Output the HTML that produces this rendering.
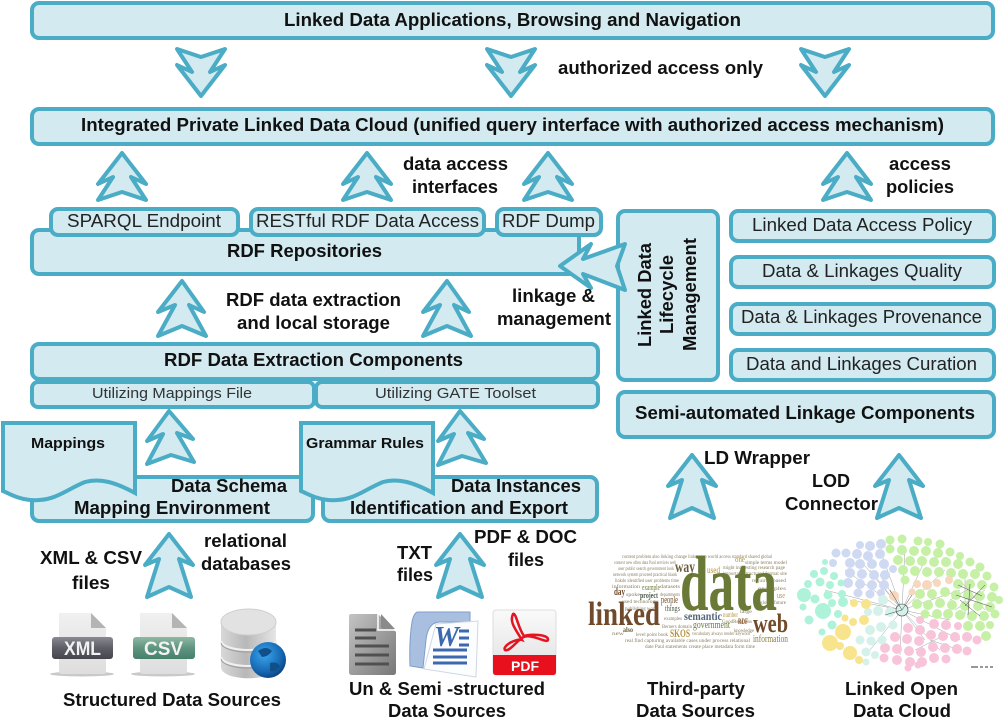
<!DOCTYPE html>
<html><head><meta charset="utf-8"><title>Linked Data Architecture</title>
<style>
html,body{margin:0;padding:0;background:#fff}
svg{display:block}
text{font-family:"Liberation Sans",sans-serif;fill:#111}
.b{font-weight:700;font-size:18px}
.r{font-size:18px;fill:#222}
.s{font-size:14.5px;fill:#333}
.box{fill:#d2eaf0;stroke:#4bacc6;stroke-width:4}
text.w{font-family:"Liberation Serif",serif}
.t text{font-family:"Liberation Serif",serif;font-size:5.5px;fill:#8a7f60}
</style></head><body>
<svg width="1006" height="723" viewBox="0 0 1006 723" xmlns="http://www.w3.org/2000/svg">
<defs>
<path id="au" class="box" stroke-linejoin="round" d="M0,0 L24,31 L9,24 L24,47 L0,39 L-24,47 L-9,24 L-24,31 Z"/>
<path id="am" class="box" stroke-linejoin="round" d="M0,0 L22,31 L7,24 L24,55 L0,45 L-24,55 L-7,24 L-24,31 Z"/>
<path id="at" class="box" stroke-linejoin="round" d="M0,0 L24,31 L10,25 L22,63 L0,53 L-22,63 L-10,25 L-24,31 Z"/>
<path id="ad" class="box" stroke-linejoin="round" d="M0,0 L24,-31 L9,-24 L24,-47 L0,-39 L-24,-47 L-9,-24 L-24,-31 Z"/>
<linearGradient id="g1" x1="0" y1="0" x2="0" y2="1"><stop offset="0" stop-color="#f0f0f0"/><stop offset="1" stop-color="#dedede"/></linearGradient>
<linearGradient id="g2" x1="0" y1="0" x2="0" y2="1"><stop offset="0" stop-color="#8a8a92"/><stop offset=".5" stop-color="#5e5e66"/><stop offset="1" stop-color="#45454c"/></linearGradient>
<linearGradient id="g3" x1="0" y1="0" x2="0" y2="1"><stop offset="0" stop-color="#8fb8a4"/><stop offset=".5" stop-color="#5f9580"/><stop offset="1" stop-color="#46806a"/></linearGradient>
<linearGradient id="g4" x1="0" y1="0" x2="1" y2="0"><stop offset="0" stop-color="#d8d8d8"/><stop offset=".45" stop-color="#b8b8b8"/><stop offset="1" stop-color="#e6e6e6"/></linearGradient>
<linearGradient id="g5" x1="0" y1="0" x2="1" y2="1"><stop offset="0" stop-color="#c4c4c4"/><stop offset="1" stop-color="#777"/></linearGradient>
<radialGradient id="g6" cx=".4" cy=".35" r=".7"><stop offset="0" stop-color="#3aa6ee"/><stop offset=".7" stop-color="#1566b0"/><stop offset="1" stop-color="#0a3f78"/></radialGradient>
<linearGradient id="g8" x1="0" y1="0" x2="0" y2="1"><stop offset="0" stop-color="#fafafa"/><stop offset="1" stop-color="#e0e0e0"/></linearGradient>
</defs>

<!-- top -->
<rect class="box" x="32" y="3" width="961" height="35" rx="7"/>
<text class="b" x="284" y="26" textLength="457" lengthAdjust="spacingAndGlyphs">Linked Data Applications, Browsing and Navigation</text>
<use href="#ad" x="201" y="96"/><use href="#ad" x="511" y="96"/><use href="#ad" x="825" y="96"/>
<text class="b" x="558" y="74" textLength="205" lengthAdjust="spacingAndGlyphs">authorized access only</text>
<rect class="box" x="32" y="109" width="961" height="35" rx="7"/>
<text class="b" x="81" y="131" textLength="863" lengthAdjust="spacingAndGlyphs">Integrated Private Linked Data Cloud (unified query interface with authorized access mechanism)</text>

<use href="#au" x="122" y="153"/><use href="#au" x="367" y="153"/><use href="#au" x="548" y="153"/><use href="#au" x="847" y="153"/>
<text class="b" x="403" y="170" textLength="105" lengthAdjust="spacingAndGlyphs">data access</text>
<text class="b" x="412" y="193" textLength="86" lengthAdjust="spacingAndGlyphs">interfaces</text>
<text class="b" x="889" y="170" textLength="62" lengthAdjust="spacingAndGlyphs">access</text>
<text class="b" x="886" y="193" textLength="68" lengthAdjust="spacingAndGlyphs">policies</text>

<!-- RDF repositories -->
<rect class="box" x="32" y="230" width="547" height="44" rx="7"/>
<rect class="box" x="51" y="209" width="187" height="26" rx="7"/>
<rect class="box" x="251" y="209" width="233" height="26" rx="7"/>
<rect class="box" x="497" y="209" width="104" height="26" rx="7"/>
<text class="r" x="67" y="227" textLength="154" lengthAdjust="spacingAndGlyphs">SPARQL Endpoint</text>
<text class="r" x="256" y="227" textLength="223" lengthAdjust="spacingAndGlyphs">RESTful RDF Data Access</text>
<text class="r" x="502" y="227" textLength="93" lengthAdjust="spacingAndGlyphs">RDF Dump</text>
<text class="b" x="227" y="257" textLength="155" lengthAdjust="spacingAndGlyphs">RDF Repositories</text>

<!-- right column -->
<rect class="box" x="618" y="211" width="100" height="169" rx="7"/>
<text class="b" transform="translate(651,347) rotate(-90)" textLength="104" lengthAdjust="spacingAndGlyphs">Linked Data</text>
<text class="b" transform="translate(673,334) rotate(-90)" textLength="79" lengthAdjust="spacingAndGlyphs">Lifecycle</text>
<text class="b" transform="translate(696,351) rotate(-90)" textLength="113" lengthAdjust="spacingAndGlyphs">Management</text>
<rect class="box" x="731" y="211" width="263" height="30" rx="7"/>
<rect class="box" x="731" y="257" width="263" height="30" rx="7"/>
<rect class="box" x="731" y="304" width="263" height="30" rx="7"/>
<rect class="box" x="731" y="350" width="263" height="30" rx="7"/>
<text class="r" x="752" y="231" textLength="220" lengthAdjust="spacingAndGlyphs">Linked Data Access Policy</text>
<text class="r" x="762" y="277" textLength="200" lengthAdjust="spacingAndGlyphs">Data &amp; Linkages Quality</text>
<text class="r" x="741" y="323" textLength="241" lengthAdjust="spacingAndGlyphs">Data &amp; Linkages Provenance</text>
<text class="r" x="746" y="370" textLength="231" lengthAdjust="spacingAndGlyphs">Data and Linkages Curation</text>
<rect class="box" x="618" y="392" width="376" height="45" rx="7"/>
<text class="b" x="635" y="419" textLength="340" lengthAdjust="spacingAndGlyphs">Semi-automated Linkage Components</text>
<path class="box" stroke-linejoin="round" d="M560,266 L591,244 L583,259 L625,244 L617,266 L625,290 L583,274 L591,288 Z"/>

<!-- extraction -->
<use href="#am" x="182" y="281"/><use href="#am" x="447" y="281"/>
<text class="b" x="226" y="306" textLength="175" lengthAdjust="spacingAndGlyphs">RDF data extraction</text>
<text class="b" x="237" y="329" textLength="153" lengthAdjust="spacingAndGlyphs">and local storage</text>
<text class="b" x="512" y="302" textLength="83" lengthAdjust="spacingAndGlyphs">linkage &amp;</text>
<text class="b" x="497" y="325" textLength="114" lengthAdjust="spacingAndGlyphs">management</text>
<rect class="box" x="32" y="344" width="566" height="35" rx="7"/>
<text class="b" x="164" y="366" textLength="299" lengthAdjust="spacingAndGlyphs">RDF Data Extraction Components</text>
<rect class="box" x="32" y="382" width="282" height="25" rx="6"/>
<rect class="box" x="316" y="382" width="282" height="25" rx="6"/>
<text class="s" x="92" y="398" textLength="160" lengthAdjust="spacingAndGlyphs">Utilizing Mappings File</text>
<text class="s" x="375" y="398" textLength="161" lengthAdjust="spacingAndGlyphs">Utilizing GATE Toolset</text>

<path class="box" stroke-linejoin="round" d="M169,411 L193,439 L177,433 L194,462 L171,455 L147,464 L163,434 L147,441 Z"/>
<path class="box" stroke-linejoin="round" d="M460,411 L484,439 L468,433 L486,463 L462,456 L438,465 L454,434 L438,441 Z"/>
<rect class="box" x="32" y="477" width="281" height="44" rx="7"/>
<rect class="box" x="323" y="477" width="274" height="44" rx="7"/>
<path class="box" d="M3,423 H135 V493 C115,482 100,478 85,482 C65,490 55,502 30,500 C18,499 10,494 3,491 Z"/>
<path class="box" d="M301,423 H433 V493 C413,482 398,478 383,482 C363,490 353,502 328,500 C316,499 308,494 301,491 Z"/>
<text class="b" style="font-size:14.500px" x="31" y="448" textLength="74" lengthAdjust="spacingAndGlyphs">Mappings</text>
<text class="b" style="font-size:14.500px" x="306" y="448" textLength="118" lengthAdjust="spacingAndGlyphs">Grammar Rules</text>
<text class="b" x="171" y="492" textLength="116" lengthAdjust="spacingAndGlyphs">Data Schema</text>
<text class="b" x="74" y="514" textLength="196" lengthAdjust="spacingAndGlyphs">Mapping Environment</text>
<text class="b" x="451" y="492" textLength="130" lengthAdjust="spacingAndGlyphs">Data Instances</text>
<text class="b" x="350" y="514" textLength="218" lengthAdjust="spacingAndGlyphs">Identification and Export</text>

<!-- source arrows -->
<use href="#at" x="169" y="534"/><use href="#at" x="460" y="534"/>
<use href="#at" x="692" y="455"/><use href="#at" x="899" y="455"/>
<text class="b" x="40" y="564" textLength="102" lengthAdjust="spacingAndGlyphs">XML &amp; CSV</text>
<text class="b" x="72" y="589" textLength="38" lengthAdjust="spacingAndGlyphs">files</text>
<text class="b" x="204" y="547" textLength="83" lengthAdjust="spacingAndGlyphs">relational</text>
<text class="b" x="201" y="570" textLength="90" lengthAdjust="spacingAndGlyphs">databases</text>
<text class="b" x="397" y="559" textLength="35" lengthAdjust="spacingAndGlyphs">TXT</text>
<text class="b" x="397" y="581" textLength="36" lengthAdjust="spacingAndGlyphs">files</text>
<text class="b" x="474" y="543" textLength="103" lengthAdjust="spacingAndGlyphs">PDF &amp; DOC</text>
<text class="b" x="508" y="566" textLength="36" lengthAdjust="spacingAndGlyphs">files</text>
<text class="b" x="704" y="464" textLength="106" lengthAdjust="spacingAndGlyphs">LD Wrapper</text>
<text class="b" x="812" y="487" textLength="38" lengthAdjust="spacingAndGlyphs">LOD</text>
<text class="b" x="785" y="510" textLength="93" lengthAdjust="spacingAndGlyphs">Connector</text>

<!-- XML icon -->
<ellipse cx="82" cy="674" rx="32" ry="2.500" fill="#c9c9c9"/>
<path d="M59,613 H91 L106,628 V672 Q106,674 103,674 H62 Q59,674 59,671 Z" fill="url(#g1)"/>
<path d="M91,613 L106,628 H91 Z" fill="#b4b4b4"/>
<rect x="52" y="637" width="61" height="22" rx="3" fill="url(#g2)"/>
<text x="64" y="655" textLength="37" lengthAdjust="spacingAndGlyphs" style="font-size:19px;font-weight:700;fill:#f2f2f2">XML</text>
<!-- CSV icon -->
<ellipse cx="163" cy="674" rx="32" ry="2.500" fill="#c9c9c9"/>
<path d="M140,613 H172 L187,628 V672 Q187,674 184,674 H143 Q140,674 140,671 Z" fill="url(#g1)"/>
<path d="M172,613 L187,628 H172 Z" fill="#b4b4b4"/>
<rect x="133" y="637" width="62" height="22" rx="3" fill="url(#g3)"/>
<text x="144" y="655" textLength="39" lengthAdjust="spacingAndGlyphs" style="font-size:19px;font-weight:700;fill:#f2f2f2">CSV</text>
<!-- DB icon -->
<path d="M221,622 V667 C221,682 276,682 276,667 V622 Z" fill="url(#g4)"/>
<ellipse cx="248.500" cy="622" rx="27.500" ry="13" fill="#e2e2e2" stroke="#cfcfcf"/>
<path d="M221,641 C224,653 273,653 276,641 M221,657 C224,669 273,669 276,657" fill="none" stroke="#f0f0f0" stroke-width="2"/>
<path d="M221,643 C224,655 273,655 276,643 M221,659 C224,671 273,671 276,659" fill="none" stroke="#9c9c9c" stroke-width="1"/>
<circle cx="268" cy="660" r="18" fill="url(#g6)"/>
<path d="M258,651 Q266,645 272,651 Q268,657 262,657 Z M270,663 Q278,661 280,667 Q274,673 270,671 Z" fill="#0f4f8a"/>
<!-- text doc -->
<path d="M351,614 Q349,614 349,616 V672 Q349,675 352,675 H393 Q396,675 396,672 V632 L378,614 Z" fill="url(#g5)"/>
<path d="M381,614 L395,629 H384 Q381,629 381,626 Z" fill="#8a8a8a"/><path d="M378,614 V630 H396" fill="none" stroke="#fff" stroke-width="1.500"/>
<path d="M355,630 H376 M355,638 H376 M355,646 H389 M355,655 H389 M355,664 H389" stroke="#505050" stroke-width="3"/>
<!-- word -->
<path d="M418,612 H470 V622 H440 Q428,622 426,640 L423,668 L410,666 Q409,640 412,622 Q414,612 418,612 Z" fill="#a9bfdf" stroke="#7f9dc9"/>
<path d="M436,624 L478,621 L476,677 L424,669 Z" fill="#fbfdff" stroke="#cfd8e6"/>
<text x="434" y="646" style="font-family:'Liberation Serif',serif;font-size:28px;font-weight:700;font-style:italic;fill:#3c68b0">W</text>
<path d="M459,631 H469 M459,638 H469 M459,645 H469 M433,650 H467 M433,657 H467 M433,663 H467" stroke="#3c68b0" stroke-width="3"/>
<!-- pdf -->
<rect x="493" y="610" width="63" height="65" rx="3" fill="url(#g8)" stroke="#ddd"/>
<path d="M493,655 H556 V672 Q556,675 553,675 H496 Q493,675 493,672 Z" fill="#e8101c"/>
<text x="511" y="671" textLength="28" lengthAdjust="spacingAndGlyphs" style="font-size:14px;font-weight:700;fill:#fff">PDF</text>
<path d="M513,614 C509,622 516,630 522,640 C516,638 502,646 505,650 C509,652 516,642 522,638 C530,632 547,644 548,640 C549,634 530,634 524,636 C518,628 516,612 513,614 Z" fill="none" stroke="#e51420" stroke-width="2.500"/>

<!-- word cloud -->
<g class="t">
<text x="622" y="558" textLength="150" lengthAdjust="spacingAndGlyphs">content problem also linking change links open world access standard shared global</text>
<text x="614" y="564" textLength="62" lengthAdjust="spacingAndGlyphs">context new often data Paul services web</text>
<text x="745" y="564" textLength="42" lengthAdjust="spacingAndGlyphs">simple terms model</text>
<text x="618" y="570" textLength="56" lengthAdjust="spacingAndGlyphs">user public search government look</text>
<text x="723" y="569" textLength="62" lengthAdjust="spacingAndGlyphs">might interesting research page</text>
<text x="613" y="576" textLength="64" lengthAdjust="spacingAndGlyphs">network system proceed practical blank</text>
<text x="723" y="575" textLength="64" lengthAdjust="spacingAndGlyphs">important structured format site</text>
<text x="615" y="582" textLength="64" lengthAdjust="spacingAndGlyphs">linkdo identified user problems time</text>
<text x="752" y="582" textLength="34" lengthAdjust="spacingAndGlyphs">required based</text>
<text x="612" y="588" textLength="28" lengthAdjust="spacingAndGlyphs">information</text>
<text x="660" y="588" textLength="20" lengthAdjust="spacingAndGlyphs">datasets</text>
<text x="758" y="590" textLength="28" lengthAdjust="spacingAndGlyphs">examples</text>
<text x="626" y="596" textLength="14" lengthAdjust="spacingAndGlyphs">spoke</text>
<text x="660" y="596" textLength="20" lengthAdjust="spacingAndGlyphs">departments</text>
<text x="622" y="603" textLength="36" lengthAdjust="spacingAndGlyphs">used technology</text>
<text x="760" y="604" textLength="26" lengthAdjust="spacingAndGlyphs">global future</text>
<text x="625" y="610" textLength="32" lengthAdjust="spacingAndGlyphs">publishing work</text>
<text x="740" y="613" textLength="12" lengthAdjust="spacingAndGlyphs">large</text>
<text x="664" y="620" textLength="18" lengthAdjust="spacingAndGlyphs">examples</text>
<text x="662" y="628" textLength="30" lengthAdjust="spacingAndGlyphs">Berners domain</text>
<text x="722" y="623" textLength="30" lengthAdjust="spacingAndGlyphs">GoodRelations</text>
<text x="734" y="632" textLength="20" lengthAdjust="spacingAndGlyphs">knowledge</text>
<text x="612" y="635" textLength="12" lengthAdjust="spacingAndGlyphs">new</text>
<text x="636" y="636" textLength="32" lengthAdjust="spacingAndGlyphs">level point book</text>
<text x="692" y="635" textLength="58" lengthAdjust="spacingAndGlyphs">vocabulary always render keyword</text>
<text x="625" y="642" textLength="125" lengthAdjust="spacingAndGlyphs">real find capturing available cases under process relational</text>
<text x="645" y="648" textLength="110" lengthAdjust="spacingAndGlyphs">date Paul statements create place metadata form time</text>
</g>
<text class="w" x="680" y="610" textLength="97" lengthAdjust="spacingAndGlyphs" style="font-size:78px;font-weight:700;fill:#6a7a36">data</text>
<text class="w" x="588" y="625" textLength="72" lengthAdjust="spacingAndGlyphs" style="font-size:34px;font-weight:700;fill:#704a2a">linked</text>
<text class="w" x="753" y="632" textLength="35" lengthAdjust="spacingAndGlyphs" style="font-size:26px;font-weight:700;fill:#704a2a">web</text>
<text class="w" x="675" y="572" textLength="20" lengthAdjust="spacingAndGlyphs" style="font-size:16px;font-weight:700;fill:#6b5d3a">way</text>
<text class="w" x="684" y="620" textLength="38" lengthAdjust="spacingAndGlyphs" style="font-size:12px;font-weight:700;fill:#53687a">semantic</text>
<text class="w" x="693" y="628" textLength="37" lengthAdjust="spacingAndGlyphs" style="font-size:10px;fill:#6a7a36">government</text>
<text class="w" x="670" y="637" textLength="20" lengthAdjust="spacingAndGlyphs" style="font-size:12px;font-weight:700;fill:#b8933e">SKOS</text>
<text class="w" x="753" y="642" textLength="35" lengthAdjust="spacingAndGlyphs" style="font-size:10px;fill:#8b8040">information</text>
<text class="w" x="738" y="624" textLength="10" lengthAdjust="spacingAndGlyphs" style="font-size:8px;font-weight:700;fill:#8a5b30">RDF</text>
<text class="w" x="661" y="603" textLength="17" lengthAdjust="spacingAndGlyphs" style="font-size:10px;fill:#704a2a">people</text>
<text class="w" x="665" y="611" textLength="15" lengthAdjust="spacingAndGlyphs" style="font-size:8px;fill:#4a5a4a">things</text>
<text class="w" x="614" y="595" textLength="11" lengthAdjust="spacingAndGlyphs" style="font-size:10px;font-weight:700;fill:#704a2a">day</text>
<text class="w" x="640" y="598" textLength="18" lengthAdjust="spacingAndGlyphs" style="font-size:8px;font-weight:700;fill:#4a5a4a">project</text>
<text class="w" x="642" y="590" textLength="18" lengthAdjust="spacingAndGlyphs" style="font-size:8px;fill:#6a7a36">example</text>
<text class="w" x="707" y="573" textLength="13" lengthAdjust="spacingAndGlyphs" style="font-size:9px;fill:#b8933e">used</text>
<text class="w" x="735" y="562" textLength="10" lengthAdjust="spacingAndGlyphs" style="font-size:8px;fill:#b8933e">one</text>
<text class="w" x="723" y="617" textLength="15" lengthAdjust="spacingAndGlyphs" style="font-size:7px;fill:#b8933e">number</text>
<text class="w" x="623" y="632" textLength="10" lengthAdjust="spacingAndGlyphs" style="font-size:7px;font-weight:700;fill:#6b5d3a">also</text>
<text class="w" x="777" y="598" textLength="8" lengthAdjust="spacingAndGlyphs" style="font-size:8px;fill:#b8933e">use</text>

<!-- LOD cloud -->
<g stroke="#777" stroke-width=".5" opacity=".7" fill="none">
<path d="M902,610 L860,560 M902,610 L880,550 M902,610 L925,560 M902,610 L960,590 M902,610 L940,650 M902,610 L900,655 M902,610 L870,650 M902,610 L850,600 M902,610 L825,590 M902,610 L880,575 M902,610 L950,620 M902,610 L925,640 M902,610 L870,570 M902,610 L945,570 M902,610 L960,640 M902,610 L845,570 M902,610 L905,548"/>
<path d="M950,600 L975,585 M960,580 L985,610 M955,610 L985,590 M965,575 L965,615 M930,640 L960,650 M915,650 L945,635"/>
</g>
<g fill="#cfd9f2">
<circle cx="860" cy="545" r="4"/><circle cx="870" cy="546" r="5"/><circle cx="881" cy="544" r="5"/>
<circle cx="836" cy="553" r="4.500"/><circle cx="846" cy="553" r="4.500"/><circle cx="857" cy="554" r="5"/><circle cx="868" cy="556" r="5"/><circle cx="880" cy="554" r="5"/>
<circle cx="833" cy="563" r="4"/><circle cx="850" cy="563" r="5"/><circle cx="860" cy="564" r="5"/><circle cx="872" cy="564" r="5"/><circle cx="884" cy="564" r="5"/><circle cx="893" cy="569" r="4"/>
<circle cx="850" cy="573" r="5"/><circle cx="862" cy="574" r="5"/><circle cx="874" cy="575" r="5"/><circle cx="885" cy="575" r="5"/>
<circle cx="848" cy="583" r="5"/><circle cx="860" cy="584" r="5"/><circle cx="872" cy="585" r="5"/><circle cx="884" cy="585" r="5"/>
<circle cx="858" cy="593" r="4.500"/><circle cx="870" cy="594" r="4.500"/><circle cx="881" cy="593" r="4"/>
</g>
<g fill="#c6f0a6">
<circle cx="890" cy="540" r="4.500"/><circle cx="902" cy="539" r="4.500"/><circle cx="918" cy="541" r="4.500"/><circle cx="928" cy="542" r="4"/><circle cx="940" cy="544" r="4.500"/>
<circle cx="890" cy="549" r="4.500"/><circle cx="902" cy="550" r="5"/><circle cx="914" cy="551" r="5"/><circle cx="926" cy="551" r="5"/><circle cx="938" cy="553" r="5"/><circle cx="950" cy="552" r="4.500"/><circle cx="960" cy="556" r="4"/>
<circle cx="898" cy="560" r="5"/><circle cx="910" cy="561" r="5"/><circle cx="922" cy="561" r="5"/><circle cx="934" cy="562" r="5"/><circle cx="946" cy="562" r="5"/><circle cx="958" cy="564" r="5"/><circle cx="970" cy="562" r="4.500"/><circle cx="980" cy="567" r="4.500"/>
<circle cx="903" cy="570" r="5"/><circle cx="915" cy="571" r="5"/><circle cx="927" cy="572" r="5"/><circle cx="939" cy="572" r="5"/><circle cx="951" cy="573" r="5"/><circle cx="963" cy="574" r="5"/><circle cx="975" cy="574" r="5"/><circle cx="987" cy="576" r="4.500"/>
<circle cx="905" cy="580" r="4.500"/><circle cx="958" cy="584" r="5"/><circle cx="970" cy="584" r="5"/><circle cx="982" cy="585" r="5"/><circle cx="994" cy="587" r="4.500"/>
<circle cx="920" cy="594" r="5"/><circle cx="932" cy="594" r="5"/><circle cx="945" cy="592" r="5"/><circle cx="956" cy="595" r="5"/><circle cx="968" cy="595" r="5"/><circle cx="980" cy="596" r="5"/><circle cx="992" cy="597" r="5"/>
<circle cx="917" cy="604" r="5"/><circle cx="928" cy="605" r="5"/><circle cx="940" cy="603" r="5"/><circle cx="952" cy="605" r="5"/><circle cx="965" cy="606" r="5"/><circle cx="978" cy="606" r="5"/><circle cx="990" cy="607" r="5"/><circle cx="999" cy="600" r="4"/>
<circle cx="925" cy="614" r="4.500"/><circle cx="937" cy="614" r="5"/><circle cx="948" cy="614" r="5"/><circle cx="960" cy="615" r="5"/><circle cx="972" cy="616" r="5"/><circle cx="984" cy="616" r="5"/><circle cx="995" cy="614" r="4.500"/>
<circle cx="968" cy="626" r="5"/><circle cx="980" cy="626" r="5"/><circle cx="990" cy="625" r="4"/><circle cx="986" cy="636" r="5"/>
</g>
<g fill="#f8c4da">
<circle cx="920" cy="620" r="4"/><circle cx="934" cy="624" r="5"/><circle cx="946" cy="625" r="5"/><circle cx="958" cy="626" r="4"/>
<circle cx="908" cy="628" r="5"/><circle cx="920" cy="630" r="5"/>
<circle cx="895" cy="637" r="5"/><circle cx="907" cy="639" r="5"/><circle cx="919" cy="641" r="5"/><circle cx="931" cy="635" r="5"/><circle cx="943" cy="636" r="5"/><circle cx="955" cy="637" r="5"/><circle cx="967" cy="637" r="5"/><circle cx="977" cy="640" r="4.500"/>
<circle cx="885" cy="648" r="5"/><circle cx="897" cy="649" r="5"/><circle cx="909" cy="651" r="5"/><circle cx="921" cy="652" r="5"/><circle cx="933" cy="647" r="5"/><circle cx="945" cy="648" r="5"/><circle cx="957" cy="649" r="5"/><circle cx="967" cy="651" r="4.500"/>
<circle cx="884" cy="658" r="4.500"/><circle cx="897" cy="660" r="5"/><circle cx="910" cy="662" r="5"/><circle cx="922" cy="662" r="5"/><circle cx="934" cy="658" r="5"/><circle cx="946" cy="659" r="4.500"/>
<circle cx="908" cy="668" r="3.500"/><circle cx="918" cy="665" r="3.500"/>
</g>
<g fill="#aef2da">
<circle cx="825" cy="562" r="3"/><circle cx="814" cy="574" r="4"/><circle cx="824" cy="571" r="4"/><circle cx="834" cy="576" r="4"/>
<circle cx="808" cy="584" r="4"/><circle cx="820" cy="582" r="4.500"/><circle cx="830" cy="585" r="4"/><circle cx="841" cy="583" r="3.500"/>
<circle cx="804" cy="595" r="7"/><circle cx="815" cy="599" r="4.500"/><circle cx="828" cy="595" r="4.500"/><circle cx="842" cy="594" r="4"/><circle cx="832" cy="603" r="4"/><circle cx="843" cy="602" r="5"/>
<circle cx="803" cy="607" r="3.500"/><circle cx="823" cy="611" r="8"/><circle cx="838" cy="614" r="4"/><circle cx="809" cy="620" r="4.500"/><circle cx="832" cy="625" r="4.500"/><circle cx="822" cy="632" r="3.500"/>
</g>
<g fill="#d4f2ea">
<circle cx="883" cy="600" r="5"/><circle cx="890" cy="612" r="5"/><circle cx="878" cy="611" r="5"/><circle cx="868" cy="612" r="4"/><circle cx="870" cy="630" r="5"/><circle cx="881" cy="627" r="5"/><circle cx="893" cy="625" r="4.500"/>
<circle cx="860" cy="640" r="4.500"/><circle cx="871" cy="641" r="4.500"/><circle cx="882" cy="640" r="4.500"/><circle cx="866" cy="652" r="4.500"/><circle cx="875" cy="655" r="4"/><circle cx="866" cy="662" r="3.500"/>
</g>
<g fill="#f8e48c">
<circle cx="830" cy="643" r="8"/><circle cx="843" cy="632" r="8"/><circle cx="850" cy="653" r="7"/><circle cx="859" cy="660" r="4"/><circle cx="840" cy="646" r="4"/>
<circle cx="866" cy="604" r="5"/><circle cx="864" cy="620" r="5"/><circle cx="854" cy="603" r="4"/><circle cx="853" cy="622" r="4"/><circle cx="845" cy="618" r="3.500"/>
</g>
<circle cx="902" cy="610" r="6" fill="#d4f2ea" stroke="#333" stroke-width=".6"/>
<g fill="#f7d7bd">
<circle cx="894" cy="596" r="5"/><circle cx="917" cy="584" r="4"/><circle cx="927" cy="585" r="5"/><circle cx="937" cy="583" r="4"/><circle cx="949" cy="580" r="4"/><circle cx="912" cy="592" r="3.500"/>
</g>
<g stroke="#444" stroke-width=".5" fill="none"><path d="M958,585 L982,596 M965,606 L985,585 M970,584 L968,615 M956,595 L992,607 M960,600 L980,616 M902,610 L890,590 M902,610 L885,615 M902,610 L912,595"/></g>
<path d="M971,667 h7 M980,667 h3 M985,667 h3 M990,667 h3" stroke="#777" stroke-width="1.500"/>

<!-- captions -->
<text class="b" x="63" y="706" textLength="218" lengthAdjust="spacingAndGlyphs">Structured Data Sources</text>
<text class="b" x="349" y="695" textLength="196" lengthAdjust="spacingAndGlyphs">Un &amp; Semi -structured</text>
<text class="b" x="388" y="717" textLength="118" lengthAdjust="spacingAndGlyphs">Data Sources</text>
<text class="b" x="647" y="695" textLength="98" lengthAdjust="spacingAndGlyphs">Third-party</text>
<text class="b" x="636" y="717" textLength="119" lengthAdjust="spacingAndGlyphs">Data Sources</text>
<text class="b" x="845" y="695" textLength="113" lengthAdjust="spacingAndGlyphs">Linked Open</text>
<text class="b" x="853" y="717" textLength="98" lengthAdjust="spacingAndGlyphs">Data Cloud</text>
</svg>
</body></html>
